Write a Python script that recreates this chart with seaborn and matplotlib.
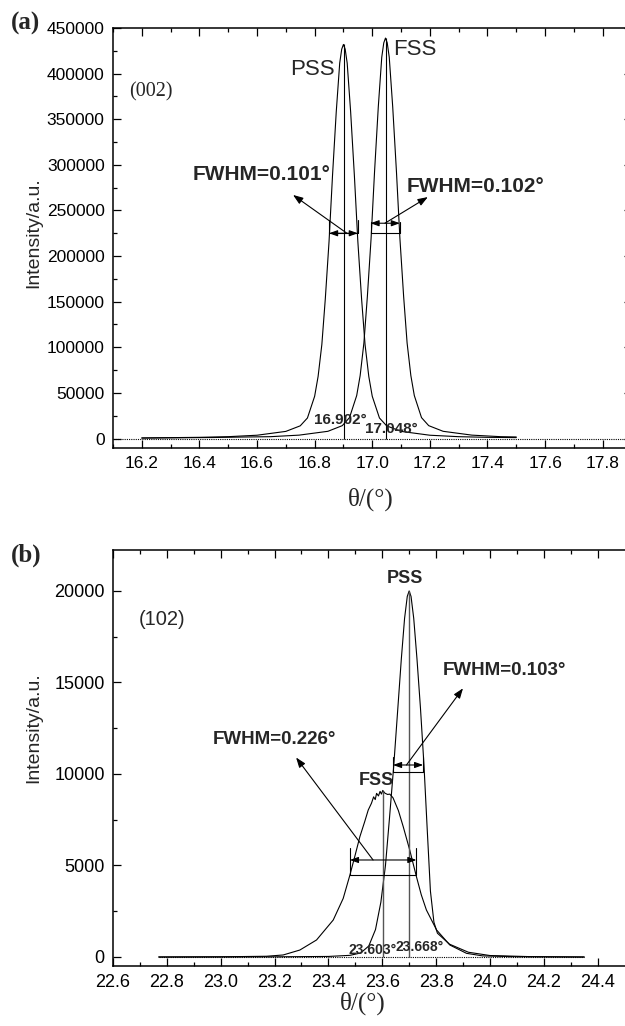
import seaborn as sns
import matplotlib.pyplot as plt
import pandas as pd

# ---- (a) (002) reflection ----
pss_a_theta = [16.20, 16.40, 16.50, 16.60, 16.70, 16.75, 16.775, 16.80, 16.812, 16.825,
               16.837, 16.850, 16.862, 16.875, 16.887, 16.894, 16.900, 16.906, 16.913,
               16.925, 16.938, 16.950, 16.963, 16.975, 16.988, 17.000, 17.025, 17.050,
               17.100, 17.200, 17.300, 17.400, 17.500]
pss_a_int = [600, 1300, 2000, 3600, 7800, 13900, 22500, 46300, 68000, 103000,
             153000, 216000, 288000, 358000, 411500, 426800, 432000, 426800, 411500,
             358000, 288000, 216000, 153000, 103000, 68000, 46300, 22500, 13900,
             7800, 3600, 2000, 1300, 1000]
fss_a_theta = [16.20, 16.446, 16.546, 16.646, 16.746, 16.846, 16.896, 16.921, 16.946,
               16.958, 16.971, 16.983, 16.996, 17.008, 17.021, 17.033, 17.040, 17.046,
               17.052, 17.059, 17.071, 17.084, 17.096, 17.109, 17.121, 17.134, 17.146,
               17.171, 17.196, 17.246, 17.346, 17.446, 17.500]
fss_a_int = [500, 1100, 1600, 2000, 3700, 7900, 14100, 22900, 47100,
             69000, 104700, 155500, 219500, 292600, 363700, 418000, 433700, 439000,
             433700, 418000, 363700, 292600, 219500, 155500, 104700, 69000, 47100,
             22900, 14100, 7900, 3700, 2000, 1700]

# ---- (b) (102) reflection ----
pss_b_theta = [22.77, 23.20, 23.40, 23.48, 23.52, 23.55, 23.575, 23.595, 23.612, 23.627,
               23.643, 23.658, 23.671, 23.683, 23.693, 23.700, 23.707, 23.717, 23.729,
               23.742, 23.755, 23.767, 23.779, 23.792, 23.805, 23.85, 23.92, 24.00,
               24.15, 24.35]
pss_b_int = [0, 10, 30, 90, 220, 600, 1500, 3000, 5000, 7600,
             10500, 13600, 16300, 18500, 19700, 20000, 19700, 18500, 16300,
             13600, 10500, 7000, 3600, 1900, 1300, 700, 260, 80,
             20, 0]
fss_b_theta = [22.77, 23.00, 23.17, 23.232, 23.294, 23.356, 23.418, 23.455, 23.480, 23.500,
               23.517, 23.535, 23.548, 23.560, 23.568, 23.574, 23.579, 23.586, 23.592,
               23.597, 23.602, 23.610, 23.620, 23.628, 23.640, 23.660, 23.678, 23.702,
               23.727, 23.745, 23.764, 23.802, 23.851, 23.913, 23.973, 24.10, 24.35]
fss_b_int = [0, 10, 40, 110, 380, 930, 2020, 3200, 4480, 5600,
             6575, 7400, 8030, 8400, 8750, 8600, 8940, 8800, 9050,
             8900, 9100, 8950, 8880, 8900, 8700, 8000, 7120, 5850,
             4390, 3400, 2570, 1475, 656, 200, 60, 15, 0]

peak_a = [16.902, 17.048]
peak_a_h = [432000, 439000]
peak_b = [23.602, 23.700]
peak_b_h = [9050, 20000]

sns.set_style("ticks")
plt.rcParams["font.family"] = ["Liberation Sans", "DejaVu Sans"]
plt.rcParams["axes.linewidth"] = 1.1

fig = plt.figure(figsize=(6.25, 10.26), dpi=100)
ax_a = fig.add_axes([0.1808, 0.5638, 0.8296, 0.4089])
ax_b = fig.add_axes([0.1808, 0.0585, 0.8400, 0.4055])

LW = 0.8
for th, it in [(pss_a_theta, pss_a_int), (fss_a_theta, fss_a_int)]:
    df = pd.DataFrame({"theta": th, "I": it})
    sns.lineplot(data=df, x="theta", y="I", ax=ax_a, color="black", lw=LW,
                 estimator=None, sort=False)
for th, it in [(pss_b_theta, pss_b_int), (fss_b_theta, fss_b_int)]:
    df = pd.DataFrame({"theta": th, "I": it})
    sns.lineplot(data=df, x="theta", y="I", ax=ax_b, color="black", lw=LW,
                 estimator=None, sort=False)

# peak position lines and dotted baselines
ax_a.vlines(peak_a, 0, peak_a_h, color="black", lw=0.8)
ax_b.vlines(peak_b, 0, peak_b_h, color="#555555", lw=1.0)
ax_a.axhline(0, color="black", lw=0.8, ls=(0, (1, 1)))
ax_b.hlines(0, 22.77, 24.35, color="black", lw=0.8, ls=(0, (1, 1)))


def fwhm_marker(ax, x0, x1, y_bot, y_top, y_arrow):
    ax.plot([x0, x0], [y_bot, y_top], color="black", lw=0.8)
    ax.plot([x1, x1], [y_bot, y_top], color="black", lw=0.8)
    ax.plot([x0, x1], [y_bot, y_bot], color="black", lw=0.8)
    ax.annotate("", xy=(x0, y_arrow), xytext=(x1, y_arrow),
                arrowprops=dict(arrowstyle="<|-|>,head_length=0.5,head_width=0.18",
                                color="black", lw=0.8, shrinkA=0, shrinkB=0))


def leader(ax, start, end):
    ax.annotate("", xy=end, xytext=start,
                arrowprops=dict(arrowstyle="-|>,head_length=0.6,head_width=0.22",
                                color="black", lw=0.8, shrinkA=0, shrinkB=0))


# ---- annotations (a) ----
fwhm_marker(ax_a, 16.850, 16.950, 225000, 239500, 225000)
fwhm_marker(ax_a, 16.994, 17.096, 225000, 237000, 236000)
leader(ax_a, (16.912, 225000), (16.725, 267000))
leader(ax_a, (17.044, 236000), (17.193, 264700))
ax_a.text(16.791, 404000, "PSS", fontsize=16, ha="center", va="center")
ax_a.text(17.148, 426000, "FSS", fontsize=16, ha="center", va="center")
ax_a.text(16.617, 289000, "FWHM=0.101°", fontsize=15, fontweight="bold",
          ha="center", va="center")
ax_a.text(17.357, 276000, "FWHM=0.102°", fontsize=15, fontweight="bold",
          ha="center", va="center")
ax_a.text(16.231, 380000, "(002)", fontsize=14.5, ha="center", va="center",
          family=["Liberation Serif", "DejaVu Serif"])
ax_a.text(16.888, 20300, "16.902°", fontsize=11, fontweight="bold",
          ha="center", va="center")
ax_a.text(17.065, 10400, "17.048°", fontsize=11, fontweight="bold",
          ha="center", va="center")

# ---- annotations (b) ----
fwhm_marker(ax_b, 23.640, 23.752, 10120, 10940, 10490)
fwhm_marker(ax_b, 23.480, 23.727, 4480, 5950, 5300)
leader(ax_b, (23.690, 10490), (23.900, 14680))
leader(ax_b, (23.566, 5300), (23.280, 10900))
ax_b.text(23.684, 20690, "PSS", fontsize=13, fontweight="bold", ha="center", va="center")
ax_b.text(23.580, 9660, "FSS", fontsize=13, fontweight="bold", ha="center", va="center")
ax_b.text(22.782, 18450, "(102)", fontsize=14.5, ha="center", va="center")
ax_b.text(23.198, 11900, "FWHM=0.226°", fontsize=13.5, fontweight="bold",
          ha="center", va="center")
ax_b.text(24.055, 15670, "FWHM=0.103°", fontsize=13.5, fontweight="bold",
          ha="center", va="center")
ax_b.text(23.565, 380, "23.603°", fontsize=10, fontweight="bold", ha="center", va="center")
ax_b.text(23.740, 550, "23.668°", fontsize=10, fontweight="bold", ha="center", va="center")

# ---- axes ----
ax_a.set_xlim(16.1, 17.9)
ax_a.set_ylim(-9900, 450000)
ax_a.set_xticks([16.2, 16.4, 16.6, 16.8, 17.0, 17.2, 17.4, 17.6, 17.8])
ax_a.set_xticks([16.1, 16.3, 16.5, 16.7, 16.9, 17.1, 17.3, 17.5, 17.7], minor=True)
ax_a.set_yticks(range(0, 450001, 50000))
ax_a.set_yticks(range(25000, 450000, 50000), minor=True)
ax_a.set_xticklabels(["16.2", "16.4", "16.6", "16.8", "17.0", "17.2", "17.4", "17.6", "17.8"])

ax_b.set_xlim(22.6, 24.55)
ax_b.set_ylim(-491, 22240)
ax_b.set_xticks([22.6, 22.8, 23.0, 23.2, 23.4, 23.6, 23.8, 24.0, 24.2, 24.4])
ax_b.set_xticks([22.7, 22.9, 23.1, 23.3, 23.5, 23.7, 23.9, 24.1, 24.3], minor=True)
ax_b.set_xticklabels(["22.6", "22.8", "23.0", "23.2", "23.4", "23.6", "23.8", "24.0", "24.2", "24.4"])
ax_b.set_yticks([0, 5000, 10000, 15000, 20000])
ax_b.set_yticks([2500, 7500, 12500, 17500], minor=True)

for ax, fs in [(ax_a, 12.5), (ax_b, 13)]:
    ax.set_xlabel("")
    ax.set_ylabel("")
    ax.tick_params(which="both", direction="in", top=True, right=True, width=0.9,
                   labelsize=fs, colors="black")
    ax.tick_params(which="major", length=6, pad=6)
    ax.tick_params(which="minor", length=3)
    for s in ax.spines.values():
        s.set_color("black")

serif = ["Liberation Serif", "DejaVu Serif"]
fig.text(25 / 625, 1 - 23 / 1026, "(a)", fontsize=18, fontweight="bold", family=serif,
         ha="center", va="center")
fig.text(26 / 625, 1 - 555 / 1026, "(b)", fontsize=18, fontweight="bold", family=serif,
         ha="center", va="center")
fig.text(34 / 625, 1 - 233 / 1026, "Intensity/a.u.", fontsize=14, rotation=90,
         ha="center", va="center")
fig.text(34 / 625, 1 - 728 / 1026, "Intensity/a.u.", fontsize=14, rotation=90,
         ha="center", va="center")
fig.text(371 / 625, 1 - 499 / 1026, "θ/(°)", fontsize=18, family=serif,
         ha="center", va="center")
fig.text(363 / 625, 1 - 1003 / 1026, "θ/(°)", fontsize=18, family=serif,
         ha="center", va="center")

fig.savefig("out.png", dpi=100)
